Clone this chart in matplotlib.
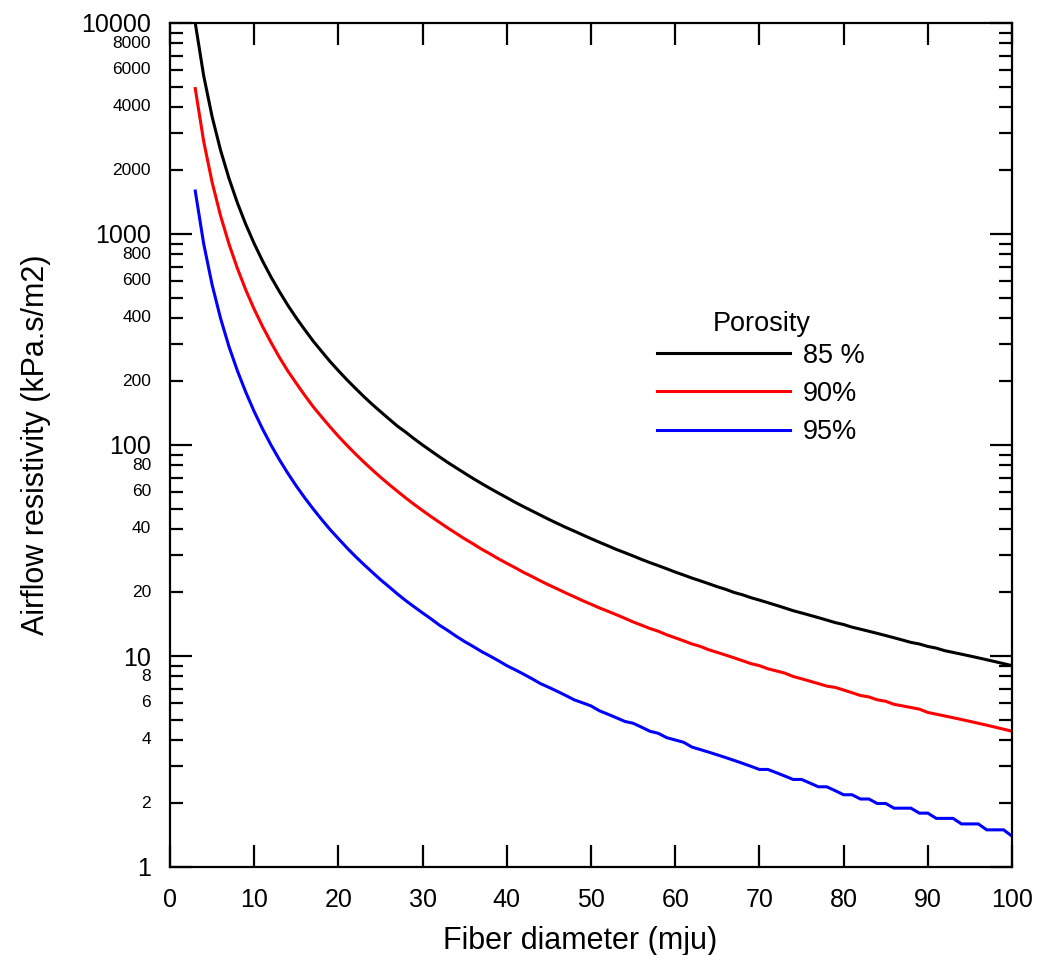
import matplotlib
matplotlib.use("Agg")
import matplotlib.pyplot as plt
from matplotlib.ticker import FixedLocator, NullFormatter

plt.rcParams['font.family'] = ['Liberation Sans', 'DejaVu Sans']

diameter = list(range(3, 101))

res_85 = [10000, 5625, 3600, 2500, 1837, 1406, 1111, 900, 744, 625,
          533, 459, 400, 352, 311, 278, 249, 225, 204, 186,
          170, 156, 144, 133, 123, 115, 107, 100, 93.7, 87.9,
          82.6, 77.9, 73.5, 69.4, 65.7, 62.3, 59.2, 56.3, 53.5, 51.0,
          48.7, 46.5, 44.4, 42.5, 40.7, 39.1, 37.5, 36.0, 34.6, 33.3,
          32.0, 30.9, 29.8, 28.7, 27.7, 26.8, 25.9, 25.0, 24.2, 23.4,
          22.7, 22.0, 21.3, 20.7, 20.0, 19.5, 18.9, 18.4, 17.9, 17.4,
          16.9, 16.4, 16.0, 15.6, 15.2, 14.8, 14.4, 14.1, 13.7, 13.4,
          13.1, 12.8, 12.5, 12.2, 11.9, 11.6, 11.4, 11.1, 10.9, 10.6,
          10.4, 10.2, 10.0, 9.8, 9.6, 9.4, 9.2, 9.0]

res_90 = [4889, 2750, 1760, 1222, 898, 688, 543, 440, 364, 306,
          260, 224, 196, 172, 152, 136, 122, 110, 99.8, 90.9,
          83.2, 76.4, 70.4, 65.1, 60.4, 56.1, 52.3, 48.9, 45.8, 43.0,
          40.4, 38.1, 35.9, 34.0, 32.1, 30.5, 28.9, 27.5, 26.2, 24.9,
          23.8, 22.7, 21.7, 20.8, 19.9, 19.1, 18.3, 17.6, 16.9, 16.3,
          15.7, 15.1, 14.5, 14.0, 13.5, 13.1, 12.6, 12.2, 11.8, 11.4,
          11.1, 10.7, 10.4, 10.1, 9.8, 9.5, 9.2, 9.0, 8.7, 8.5,
          8.3, 8.0, 7.8, 7.6, 7.4, 7.2, 7.1, 6.9, 6.7, 6.5,
          6.4, 6.2, 6.1, 5.9, 5.8, 5.7, 5.6, 5.4, 5.3, 5.2,
          5.1, 5.0, 4.9, 4.8, 4.7, 4.6, 4.5, 4.4]

res_95 = [1598, 899, 575, 399, 293, 225, 178, 144, 119, 99.9,
          85.1, 73.4, 63.9, 56.2, 49.8, 44.4, 39.8, 36.0, 32.6, 29.7,
          27.2, 25.0, 23.0, 21.3, 19.7, 18.3, 17.1, 16.0, 15.0, 14.0,
          13.2, 12.4, 11.7, 11.1, 10.5, 10.0, 9.5, 9.0, 8.6, 8.2,
          7.8, 7.4, 7.1, 6.8, 6.5, 6.2, 6.0, 5.8, 5.5, 5.3,
          5.1, 4.9, 4.8, 4.6, 4.4, 4.3, 4.1, 4.0, 3.9, 3.7,
          3.6, 3.5, 3.4, 3.3, 3.2, 3.1, 3.0, 2.9, 2.9, 2.8,
          2.7, 2.6, 2.6, 2.5, 2.4, 2.4, 2.3, 2.2, 2.2, 2.1,
          2.1, 2.0, 2.0, 1.9, 1.9, 1.9, 1.8, 1.8, 1.7, 1.7,
          1.7, 1.6, 1.6, 1.6, 1.5, 1.5, 1.5, 1.4]

series_labels = ["85 %", "90%", "95%"]
series_colors = ["#000000", "#ff0000", "#0000ff"]
legend_title = "Porosity"

x_ticks = [0, 10, 20, 30, 40, 50, 60, 70, 80, 90, 100]
y_major = [1, 10, 100, 1000, 10000]
y_minor = [m * 10 ** e for e in range(4) for m in range(2, 10)]
y_minor_labeled = [m * 10 ** e for e in range(4) for m in (2, 4, 6, 8)]

fig = plt.figure(figsize=(10.4, 9.55), dpi=100)
ax = fig.add_axes([170 / 1040, 1 - 867 / 955, (1012 - 170) / 1040, (867 - 23) / 955])

for vals, lab, col in zip([res_85, res_90, res_95], series_labels, series_colors):
    ax.plot(diameter, vals, color=col, lw=2.2, label=lab, solid_joinstyle='miter')

ax.set_yscale('log')
ax.set_xlim(0, 100)
ax.set_ylim(1, 10000)

ax.xaxis.set_major_locator(FixedLocator(x_ticks))
ax.set_xticklabels([str(t) for t in x_ticks])
ax.xaxis.set_minor_locator(FixedLocator([]))
ax.yaxis.set_major_locator(FixedLocator(y_major))
ax.set_yticklabels([str(t) for t in y_major])
ax.yaxis.set_minor_locator(FixedLocator(y_minor))
ax.yaxis.set_minor_formatter(NullFormatter())

for s in ax.spines.values():
    s.set_linewidth(1.6)

ax.tick_params(axis='both', which='major', direction='in', length=16, width=1.6,
               top=True, right=True, labelsize=18, pad=8)
ax.tick_params(axis='y', which='minor', direction='in', length=9.5, width=1.6,
               left=True, right=True)
ax.tick_params(axis='x', which='major', pad=15)
ax.tick_params(axis='y', which='major', pad=14)

# minor tick labels (smaller font)
for v in y_minor_labeled:
    ax.text(-0.0225, v, str(v), transform=ax.get_yaxis_transform(), ha='right',
            va='center', fontsize=12.5)

ax.set_xlabel("Fiber diameter (mju)", fontsize=22)
ax.set_ylabel("Airflow resistivity (kPa.s/m2)", fontsize=22)
ax.xaxis.set_label_coords(0.487, -0.070)
ax.yaxis.set_label_coords(-0.141, 0.5)

leg = ax.legend(frameon=False, fontsize=19.5,
                handlelength=4.94, handletextpad=0.45, labelspacing=0.454,
                borderpad=0, loc='upper left', bbox_to_anchor=(0.578, 0.6214),
                borderaxespad=0)
ax.text(0.703, 0.6433, legend_title, transform=ax.transAxes, ha='center',
        va='center', fontsize=19.5)

fig.savefig("out.png", dpi=100)
